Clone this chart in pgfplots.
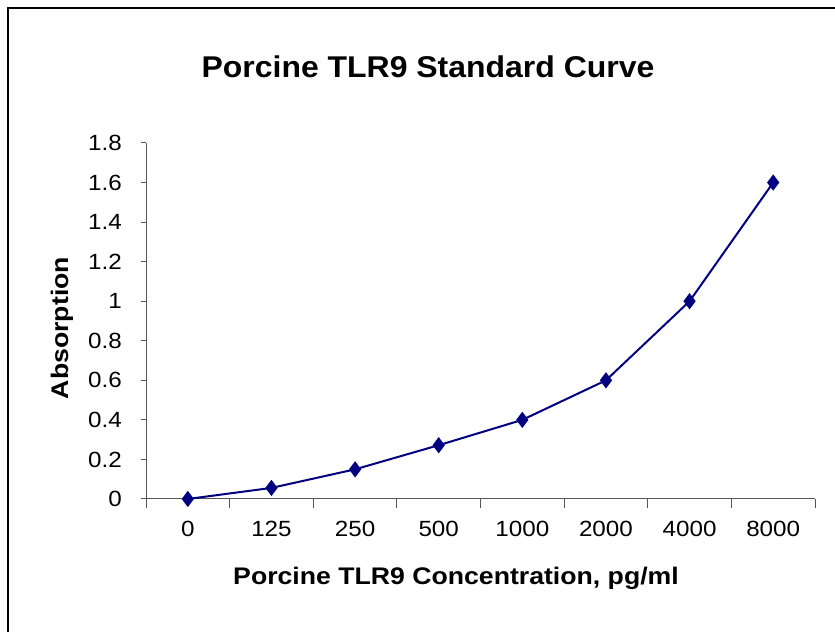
\documentclass[border=0pt]{standalone}
\usepackage{pgfplots}
\pgfplotsset{compat=1.18}
\usepackage{fontspec}
\setmainfont{Liberation Sans}
\definecolor{navyline}{RGB}{0,0,128}
\definecolor{axgray}{RGB}{85,85,85}
\begin{document}
\begin{tikzpicture}[x=1bp,y=1bp]
\path[use as bounding box] (0,0) rectangle (835,632);
\draw[line width=1.2bp] (8,-5) -- (8,624) -- (840,624);
\begin{axis}[
  at={(146bp,133bp)}, anchor=south west,
  scale only axis, width=669bp, height=356bp,
  xmin=-0.5, xmax=7.5, ymin=0, ymax=1.8,
  axis lines*=left,
  axis line style={axgray, line width=1bp},
  every tick/.style={axgray, line width=1bp},
  tick align=outside,
  xtick={0,...,7},
  xticklabels={0,125,250,500,1000,2000,4000,8000},
  major x tick style={draw=none},
  minor xtick={-0.5,0.5,...,7.5},
  minor tick length=9bp,
  ytick={0,0.2,...,1.8},
  major tick length=5bp,
  /pgf/number format/assume math mode=true,
  ticklabel style={font=\fontsize{22bp}{26bp}\selectfont, xscale=1.1},
  xticklabel style={yshift=-14bp},
  yticklabel style={xshift=-14bp},
  clip=false,
]
\addplot[navyline, line width=2bp, mark=diamond*, mark size=6.5bp, mark options={fill=navyline}]
  coordinates {(0,0) (1,0.056) (2,0.15) (3,0.272) (4,0.4) (5,0.6) (6,1.0) (7,1.6)};
\end{axis}
\node[font=\bfseries\fontsize{30bp}{34bp}\selectfont, xscale=1.065] at (428,565) {Porcine TLR9 Standard Curve};
\node[font=\bfseries\fontsize{24bp}{28bp}\selectfont, xscale=1.11] at (456,54) {Porcine TLR9 Concentration, pg/ml};
\node[font=\bfseries\fontsize{24bp}{28bp}\selectfont, rotate=90, xscale=1.11] at (62,304) {Absorption};
\end{tikzpicture}
\end{document}
